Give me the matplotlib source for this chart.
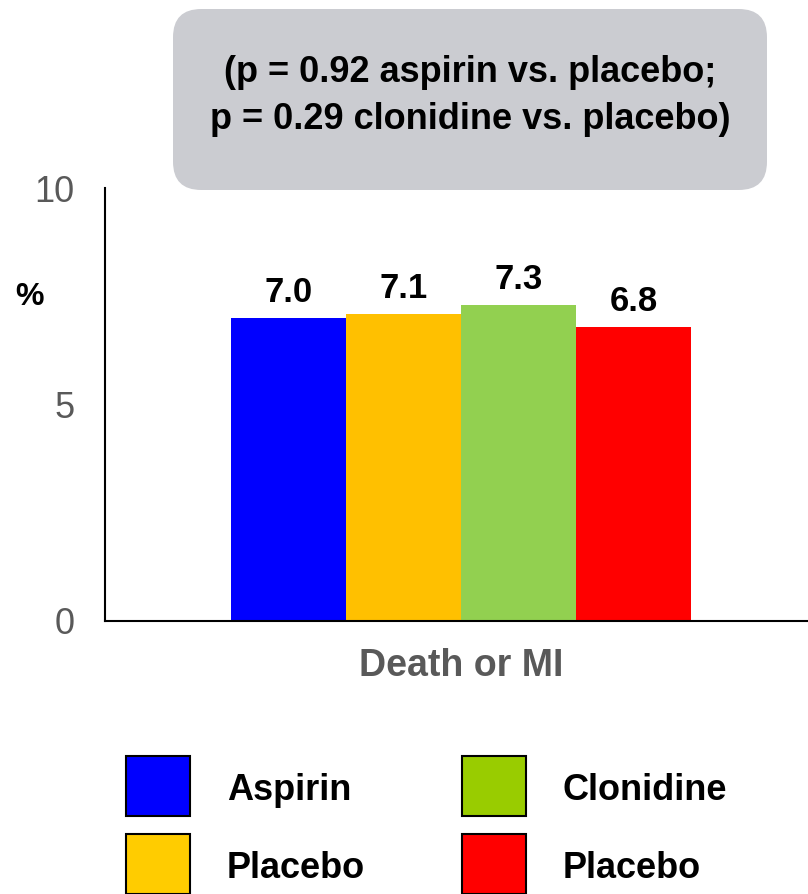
import matplotlib.pyplot as plt
from matplotlib.patches import FancyBboxPatch, Rectangle

# data
groups = ['Aspirin', 'Placebo', 'Clonidine', 'Placebo']
values = [7.0, 7.1, 7.3, 6.8]
bar_colors = ['#0000FF', '#FFC000', '#92D050', '#FF0000']
legend_colors = ['#0000FF', '#FFCC00', '#99CC00', '#FF0000']
category = 'Death or MI'
yticks = [0, 5, 10]
note = '(p = 0.92 aspirin vs. placebo;\np = 0.29 clonidine vs. placebo)'

plt.rcParams['font.family'] = ['Liberation Sans', 'DejaVu Sans']

W, H = 808, 894
fig = plt.figure(figsize=(W / 100, H / 100), dpi=100)

def fx(px):
    return px / W

def fy(py):
    return 1 - py / H

ax = fig.add_axes([fx(105), fy(621), 1 - fx(105), fy(188) - fy(621)])
x = list(range(len(values)))
ax.bar(x, values, width=1.0, color=bar_colors)
ax.set_xlim(-1.596, 4.517)
ax.set_ylim(0, 10)
ax.set_yticks(yticks)
ax.set_yticklabels([str(t) for t in yticks], fontsize=26, color='#595959')
ax.tick_params(axis='y', length=0, pad=22)
ax.set_xticks([])
for s in ['top', 'right']:
    ax.spines[s].set_visible(False)
ax.spines['left'].set_linewidth(1.5)
ax.spines['bottom'].set_linewidth(1.5)

for xi, v in zip(x, values):
    ax.text(xi, v + 0.2, f'{v:.1f}', ha='center', va='bottom',
            fontsize=25, fontweight='bold')

fig.text(fx(461), fy(666), category, ha='center', va='center',
         fontsize=27, fontweight='bold', color='#595959')
fig.text(fx(30), fy(297), '%', ha='center', va='center',
         fontsize=23, fontweight='bold')

# p-value box
box = FancyBboxPatch((fx(173), fy(190)), fx(767 - 173), (190 - 9) / H,
                     boxstyle='round,pad=0,rounding_size=0.035',
                     transform=fig.transFigure, facecolor='#CBCCD1',
                     edgecolor='none', mutation_aspect=W / H)
fig.add_artist(box)
fig.text(fx(470), fy(96), note, ha='center', va='center', fontsize=26,
         fontweight='bold', linespacing=1.42)

# legend
pos = [(126, 756), (126, 834), (462, 756), (462, 834)]
for (px, py), c, lab in zip(pos, legend_colors, groups):
    fig.add_artist(Rectangle((fx(px), fy(py + 60)), fx(64), 60 / H,
                             transform=fig.transFigure, facecolor=c,
                             edgecolor='black', linewidth=1.5))
    fig.text(fx(px + 101), fy(py + 35), lab, ha='left', va='center',
             fontsize=26, fontweight='bold')

fig.savefig('out.png', dpi=100)
